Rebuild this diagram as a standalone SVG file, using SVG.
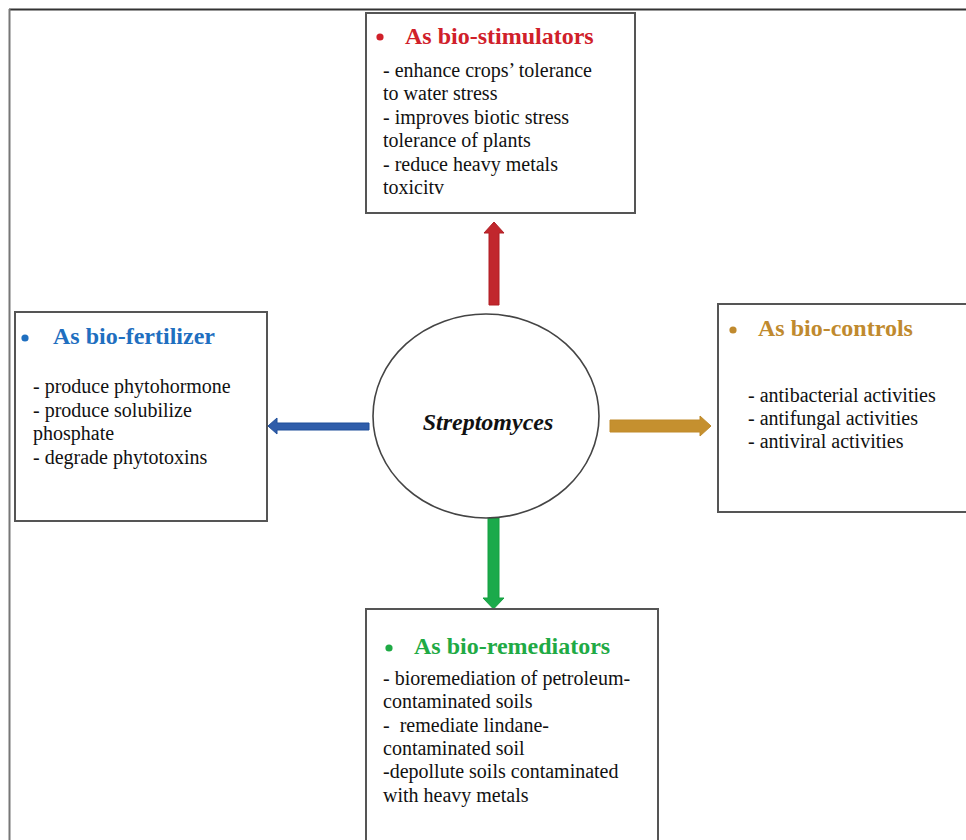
<svg xmlns="http://www.w3.org/2000/svg" width="966" height="840" viewBox="0 0 966 840">
<style>
.box{fill:#fff;stroke:#555;stroke-width:2}
.t{font-family:"Liberation Serif","Times New Roman",serif;font-weight:bold;font-size:24px}
.b{font-family:"Liberation Serif","Times New Roman",serif;font-size:20px;fill:#111}
.red{fill:#D0202A}.blue{fill:#1F6FC0}.gold{fill:#C08A2E}.green{fill:#1FAA45}
</style>
<rect width="966" height="840" fill="#fff"/>
<g id="frame">
<line x1="9" y1="9.5" x2="966" y2="9.5" stroke="#333" stroke-width="2"/>
<line x1="9.5" y1="9" x2="9.5" y2="840" stroke="#777" stroke-width="2"/>
</g>
<g id="connectors">
<polygon points="489,305 499,305 499,233 504,233 494,222 484,233 489,233" fill="#C1272D" stroke="#B01F25" stroke-width="1"/>
<polygon points="369,423 369,430 277,430 277,434 268,426 277,418 277,423" fill="#2F5DAA" stroke="#1F4E9A" stroke-width="1"/>
<polygon points="610,420 700,420 700,416 711,426 700,436 700,432 610,432" fill="#C5902F" stroke="#C08A2A" stroke-width="1"/>
<polygon points="488,518 499,518 499,598 504,598 493.5,609 483,598 488,598" fill="#1BAA4B" stroke="#14A040" stroke-width="1"/>
</g>
<g id="center">
<ellipse cx="486" cy="416" rx="113" ry="102" fill="#fff" stroke="#444" stroke-width="1.6"/>
<text x="488" y="430" text-anchor="middle" font-family="'Liberation Serif','Times New Roman',serif" font-weight="bold" font-style="italic" font-size="24" fill="#111">Streptomyces</text>
</g>
<g id="bio-stimulators">
<rect class="box" x="366" y="13" width="269" height="200"/>
<circle class="red" cx="380" cy="37" r="3.6"/>
<text class="t red" x="405" y="44">As bio-stimulators</text>
<text class="b" x="383" y="77">- enhance crops’ tolerance</text>
<text class="b" x="383" y="100">to water stress</text>
<text class="b" x="383" y="124">- improves biotic stress</text>
<text class="b" x="383" y="147">tolerance of plants</text>
<text class="b" x="383" y="171">- reduce heavy metals</text>
<text class="b" x="383" y="194">toxicitv</text>
</g>
<g id="bio-fertilizer">
<rect class="box" x="15" y="312" width="252" height="209"/>
<circle class="blue" cx="25" cy="338" r="3.6"/>
<text class="t blue" x="53" y="344">As bio-fertilizer</text>
<text class="b" x="33" y="393">- produce phytohormone</text>
<text class="b" x="33" y="417">- produce solubilize</text>
<text class="b" x="33" y="440">phosphate</text>
<text class="b" x="33" y="464">- degrade phytotoxins</text>
</g>
<g id="bio-controls">
<rect class="box" x="718" y="304" width="260" height="208"/>
<circle class="gold" cx="733" cy="330" r="3.6"/>
<text class="t gold" x="758" y="336">As bio-controls</text>
<text class="b" x="748" y="402">- antibacterial activities</text>
<text class="b" x="748" y="425">- antifungal activities</text>
<text class="b" x="748" y="448">- antiviral activities</text>
</g>
<g id="bio-remediators">
<rect class="box" x="366" y="609" width="292" height="250"/>
<circle class="green" cx="389" cy="648" r="3.6"/>
<text class="t green" x="414" y="654">As bio-remediators</text>
<text class="b" x="383" y="685">- bioremediation of petroleum-</text>
<text class="b" x="383" y="708">contaminated soils</text>
<text class="b" x="383" y="732" xml:space="preserve">-  remediate lindane-</text>
<text class="b" x="383" y="755">contaminated soil</text>
<text class="b" x="383" y="778">-depollute soils contaminated</text>
<text class="b" x="383" y="802">with heavy metals</text>
</g>
</svg>
